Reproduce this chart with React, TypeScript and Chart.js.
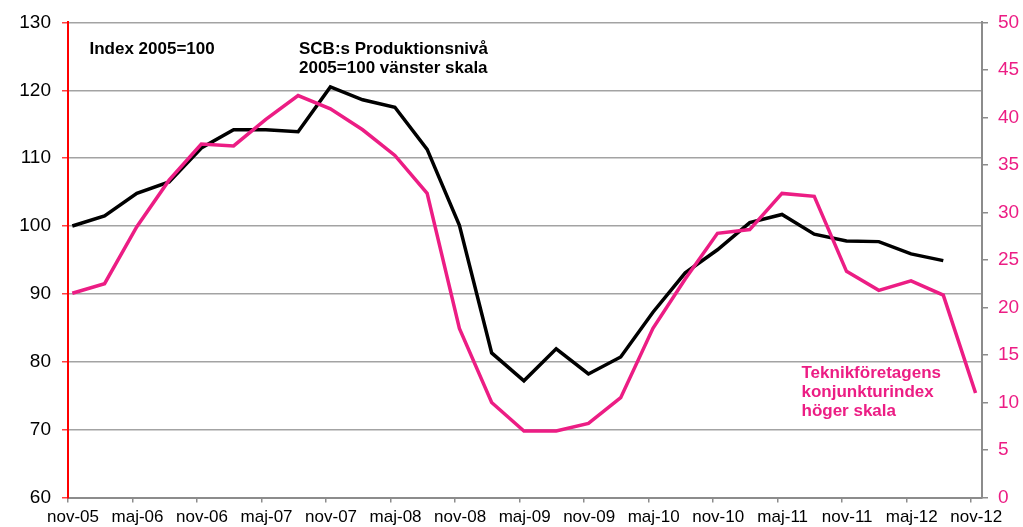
import React, { useEffect, useRef } from "react";
import { Chart, registerables } from "chart.js";

Chart.register(...registerables);

// x-axis tick labels (every 6 months)
const tickLabels = [
  "nov-05", "maj-06", "nov-06", "maj-07", "nov-07", "maj-08", "nov-08", "maj-09",
  "nov-09", "maj-10", "nov-10", "maj-11", "nov-11", "maj-12", "nov-12",
];

// quarterly observations starting nov-05
const quarters = [
  "nov-05", "feb-06", "maj-06", "aug-06", "nov-06", "feb-07", "maj-07", "aug-07",
  "nov-07", "feb-08", "maj-08", "aug-08", "nov-08", "feb-09", "maj-09", "aug-09",
  "nov-09", "feb-10", "maj-10", "aug-10", "nov-10", "feb-11", "maj-11", "aug-11",
  "nov-11", "feb-12", "maj-12", "aug-12", "nov-12",
];

// SCB:s Produktionsnivå 2005=100 (left scale)
const scbValues = [
  100, 101.5, 104.8, 106.5, 111.5, 114.2, 114.2, 113.9,
  120.5, 118.6, 117.5, 111.3, 100.1, 81.3, 77.2, 81.9,
  78.2, 80.7, 87.3, 93.1, 96.5, 100.5, 101.7, 98.8,
  97.8, 97.7, 95.9, 94.9,
];

// Teknikföretagens konjunkturindex (right scale)
const teknikValues = [
  21.5, 22.5, 28.5, 33.4, 37.2, 37.0, 39.8, 42.3,
  40.9, 38.7, 36.0, 32.0, 17.8, 10.0, 7.0, 7.0,
  7.8, 10.5, 17.8, 23.0, 27.8, 28.2, 32.0, 31.7,
  23.8, 21.8, 22.8, 21.3, 11.0,
];

const PINK = "#ec1d84";
const FONT = '"Liberation Sans", Arial, sans-serif';

// months since nov-05; observations are plotted mid-month
const monthOf = (qi: number) => qi * 3 + 0.4;

const annotations = {
  id: "annotations",
  afterDraw(chart: any) {
    const ctx = chart.ctx;
    ctx.save();
    ctx.font = `bold 17px ${FONT}`;
    ctx.textAlign = "left";
    ctx.textBaseline = "alphabetic";
    ctx.fillStyle = "#000";
    ctx.fillText("Index 2005=100", 89.5, 54);
    ctx.fillText("SCB:s Produktionsnivå", 299, 53.5);
    ctx.fillText("2005=100 vänster skala", 299, 72.5);
    ctx.fillStyle = PINK;
    ctx.fillText("Teknikföretagens", 801.5, 377.5);
    ctx.fillText("konjunkturindex", 801.5, 396.5);
    ctx.fillText("höger skala", 801.5, 415.5);
    ctx.restore();
  },
};

export default function App() {
  const ref = useRef<HTMLCanvasElement>(null);

  useEffect(() => {
    if (!ref.current) return;
    const chart = new Chart(ref.current, {
      type: "line",
      data: {
        datasets: [
          {
            label: "Teknikföretagens konjunkturindex",
            data: teknikValues.map((v, i) => ({ x: monthOf(i), y: v })),
            borderColor: PINK,
            borderWidth: 3.5,
            pointRadius: 0,
            yAxisID: "y2",
            tension: 0,
          },
          {
            label: "SCB:s Produktionsnivå",
            data: scbValues.map((v, i) => ({ x: monthOf(i), y: v })),
            borderColor: "#000000",
            borderWidth: 3.5,
            pointRadius: 0,
            yAxisID: "y",
            tension: 0,
          },
        ],
      },
      options: {
        responsive: false,
        animation: false,
        layout: { padding: { top: 16.7, left: 0, right: 0, bottom: 0 } },
        plugins: {
          legend: { display: false },
          tooltip: { enabled: false },
          title: { display: false },
        },
        scales: {
          x: {
            type: "linear",
            min: 0,
            max: 85,
            afterBuildTicks: (axis: any) => {
              axis.ticks = tickLabels.map((_, i) => ({ value: i * 6 }));
            },
            afterFit: (axis: any) => {
              axis.height = 29.5;
            },
            ticks: {
              autoSkip: false,
              maxRotation: 0,
              minRotation: 0,
              padding: 5,
              labelOffset: 5,
              color: "#000",
              font: { family: FONT, size: 17 },
              callback: (v: any) => tickLabels[Math.round(Number(v) / 6)] ?? "",
            },
            grid: {
              drawOnChartArea: false,
              drawTicks: true,
              tickLength: 5,
              tickColor: "#8c8c8c",
              lineWidth: 1.5,
            },
            border: { color: "#8c8c8c", width: 2 },
          },
          y: {
            type: "linear",
            position: "left",
            min: 60,
            max: 130,
            afterFit: (axis: any) => {
              axis.width = 68;
            },
            ticks: {
              stepSize: 10,
              padding: 11,
              color: "#000",
              font: { family: FONT, size: 19 },
            },
            grid: {
              color: "#a3a3a3",
              lineWidth: 1.5,
              drawTicks: true,
              tickLength: 6,
              tickColor: "#ff4040",
            },
            border: { color: "#ff0000", width: 2 },
          },
          y2: {
            type: "linear",
            position: "right",
            min: 0,
            max: 50,
            afterFit: (axis: any) => {
              axis.width = 41;
            },
            ticks: {
              stepSize: 5,
              padding: 10,
              color: PINK,
              font: { family: FONT, size: 19 },
            },
            grid: {
              drawOnChartArea: false,
              drawTicks: true,
              tickLength: 6,
              tickColor: "#8c8c8c",
              lineWidth: 1.5,
            },
            border: { color: "#8c8c8c", width: 2 },
          },
        },
      },
      plugins: [annotations],
    } as any);
    return () => chart.destroy();
  }, []);

  return (
    <div style={{ position: "fixed", left: 0, top: 0, width: 1023, height: 527, background: "#fff" }}>
      <canvas ref={ref} width={1023} height={527} style={{ display: "block" }} />
    </div>
  );
}
